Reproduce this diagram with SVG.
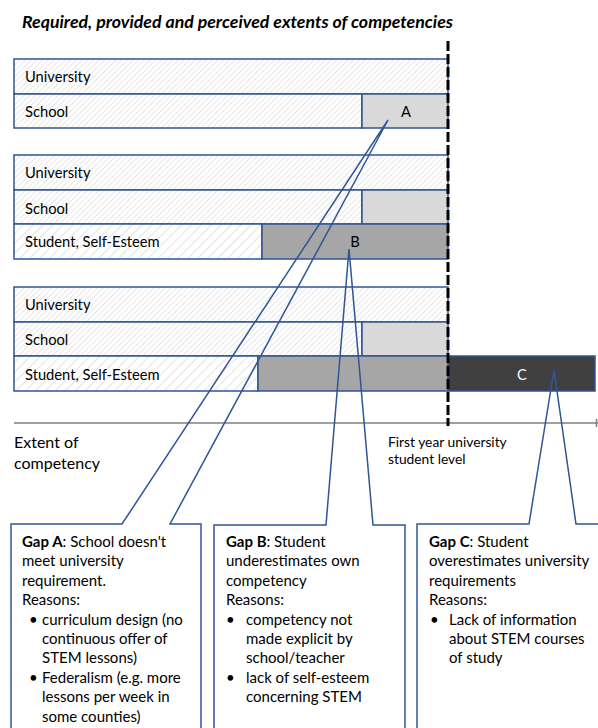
<svg xmlns="http://www.w3.org/2000/svg" width="598" height="728" viewBox="0 0 598 728">
  <defs>
    <pattern id="hatchFine" width="4" height="4" patternUnits="userSpaceOnUse" patternTransform="rotate(45)">
      <rect width="4" height="4" fill="#ffffff"/>
      <line x1="0" y1="0" x2="0" y2="4" stroke="#cfcfcf" stroke-width="1"/>
    </pattern>
    <pattern id="hatchWide" width="7" height="7" patternUnits="userSpaceOnUse" patternTransform="rotate(45)">
      <rect width="7" height="7" fill="#ffffff"/>
      <line x1="0" y1="0" x2="0" y2="7" stroke="#cfcfcf" stroke-width="1.2"/>
    </pattern>
    <style>
      .bar { stroke: #2f5597; stroke-width: 1.5; }
      .fine { fill: url(#hatchFine); }
      .wide { fill: url(#hatchWide); }
      .gapA { fill: #d9d9d9; }
      .gapB { fill: #a6a6a6; }
      .gapC { fill: #404040; }
      .lbl { font-family: Lato, "Liberation Sans", sans-serif; font-size: 14.7px; fill: #000000; }
      .mid { text-anchor: middle; }
      .white { fill: #ffffff; }
      .title { font-family: Lato, "Liberation Sans", sans-serif; font-size: 16.8px; font-weight: bold; font-style: italic; }
      .axis { font-family: Lato, "Liberation Sans", sans-serif; font-size: 16px; }
      .note { font-family: Lato, "Liberation Sans", sans-serif; font-size: 13.8px; }
      .box { font-family: Lato, "Liberation Sans", sans-serif; font-size: 15px; }
      .callout { fill: none; stroke: #2f5597; stroke-width: 1.5; stroke-linejoin: miter; }
    </style>
  </defs>

  <rect width="598" height="728" fill="#ffffff"/>

  <text class="title" x="22" y="28" textLength="431" lengthAdjust="spacingAndGlyphs">Required, provided and perceived extents of competencies</text>

  <!-- Scenario 1: university vs school -->
  <g id="scenario-a">
    <rect class="bar fine" x="14" y="59" width="434" height="35"/>
    <rect class="bar fine" x="14" y="94" width="348" height="34"/>
    <rect class="bar gapA" x="362" y="94" width="86" height="34"/>
    <text class="lbl" x="25" y="82">University</text>
    <text class="lbl" x="25" y="117">School</text>
    <text class="lbl mid" x="406" y="117">A</text>
  </g>

  <!-- Scenario 2: student underestimates -->
  <g id="scenario-b">
    <rect class="bar fine" x="14" y="155" width="434" height="35"/>
    <rect class="bar fine" x="14" y="190" width="348" height="34"/>
    <rect class="bar gapA" x="362" y="190" width="86" height="34"/>
    <rect class="bar wide" x="14" y="224" width="248" height="35"/>
    <rect class="bar gapB" x="262" y="224" width="186" height="35"/>
    <text class="lbl" x="25" y="178">University</text>
    <text class="lbl" x="25" y="213.5">School</text>
    <text class="lbl" x="25" y="247">Student, Self-Esteem</text>
    <text class="lbl mid" x="355" y="247">B</text>
  </g>

  <!-- Scenario 3: student overestimates -->
  <g id="scenario-c">
    <rect class="bar fine" x="14" y="287" width="434" height="35"/>
    <rect class="bar fine" x="14" y="322" width="348" height="34"/>
    <rect class="bar gapA" x="362" y="322" width="86" height="34"/>
    <rect class="bar wide" x="14" y="356" width="244" height="35"/>
    <rect class="bar gapB" x="258" y="356" width="190" height="35"/>
    <rect class="bar gapC" x="448" y="356" width="147" height="35"/>
    <text class="lbl" x="25" y="310">University</text>
    <text class="lbl" x="25" y="345">School</text>
    <text class="lbl" x="25" y="379.5">Student, Self-Esteem</text>
    <text class="lbl mid white" x="522" y="379.5">C</text>
  </g>

  <!-- Axis and level marker -->
  <g id="axis">
    <line x1="14" y1="423" x2="598" y2="423" stroke="#7f7f7f" stroke-width="1.5"/>
    <line x1="596.5" y1="419" x2="596.5" y2="427" stroke="#7f7f7f" stroke-width="1.5"/>
    <text class="axis" x="14" y="448">Extent of</text>
    <text class="axis" x="14" y="469">competency</text>
  </g>

  <g id="level-line">
    <line x1="448" y1="41" x2="448" y2="426" stroke="#000000" stroke-width="3" stroke-dasharray="10,3"/>
    <text class="note" x="388" y="446.5">First year university</text>
    <text class="note" x="388" y="463.5">student level</text>
  </g>

  <!-- Callout outlines with their pointers -->
  <g id="connectors">
    <polyline class="callout" points="11,740 11,524 122,524 388,120 170,524 201,524 201,740"/>
    <polyline class="callout" points="214,740 214,525 326,525 349,249 373,525 405,525 405,740"/>
    <polyline class="callout" points="417,740 417,524 529,524 554,370 576,524 610,524"/>
  </g>

  <g id="gap-a">
    <text class="box" x="22" y="547"><tspan font-weight="bold">Gap A</tspan>: School doesn't</text>
    <text class="box" x="22" y="566.4">meet university</text>
    <text class="box" x="22" y="585.8">requirement.</text>
    <text class="box" x="22" y="605.2">Reasons:</text>
    <text class="box" x="29" y="624.6">•</text>
    <text class="box" x="42" y="624.6">curriculum design (no</text>
    <text class="box" x="42" y="644">continuous offer of</text>
    <text class="box" x="42" y="663.4">STEM lessons)</text>
    <text class="box" x="29" y="682.8">•</text>
    <text class="box" x="42" y="682.8">Federalism (e.g. more</text>
    <text class="box" x="42" y="702.2">lessons per week in</text>
    <text class="box" x="42" y="721.6">some counties)</text>
  </g>

  <g id="gap-b">
    <text class="box" x="226" y="547"><tspan font-weight="bold">Gap B</tspan>: Student</text>
    <text class="box" x="226" y="566.4">underestimates own</text>
    <text class="box" x="226" y="585.8">competency</text>
    <text class="box" x="226" y="605.2">Reasons:</text>
    <text class="box" x="226" y="624.6">•</text>
    <text class="box" x="246" y="624.6">competency not</text>
    <text class="box" x="246" y="644">made explicit by</text>
    <text class="box" x="246" y="663.4">school/teacher</text>
    <text class="box" x="226" y="682.8">•</text>
    <text class="box" x="246" y="682.8">lack of self-esteem</text>
    <text class="box" x="246" y="702.2">concerning STEM</text>
  </g>

  <g id="gap-c">
    <text class="box" x="429" y="547"><tspan font-weight="bold">Gap C</tspan>: Student</text>
    <text class="box" x="429" y="566.4">overestimates university</text>
    <text class="box" x="429" y="585.8">requirements</text>
    <text class="box" x="429" y="605.2">Reasons:</text>
    <text class="box" x="430" y="624.6">•</text>
    <text class="box" x="449" y="624.6">Lack of information</text>
    <text class="box" x="449" y="644">about STEM courses</text>
    <text class="box" x="449" y="663.4">of study</text>
  </g>
</svg>
